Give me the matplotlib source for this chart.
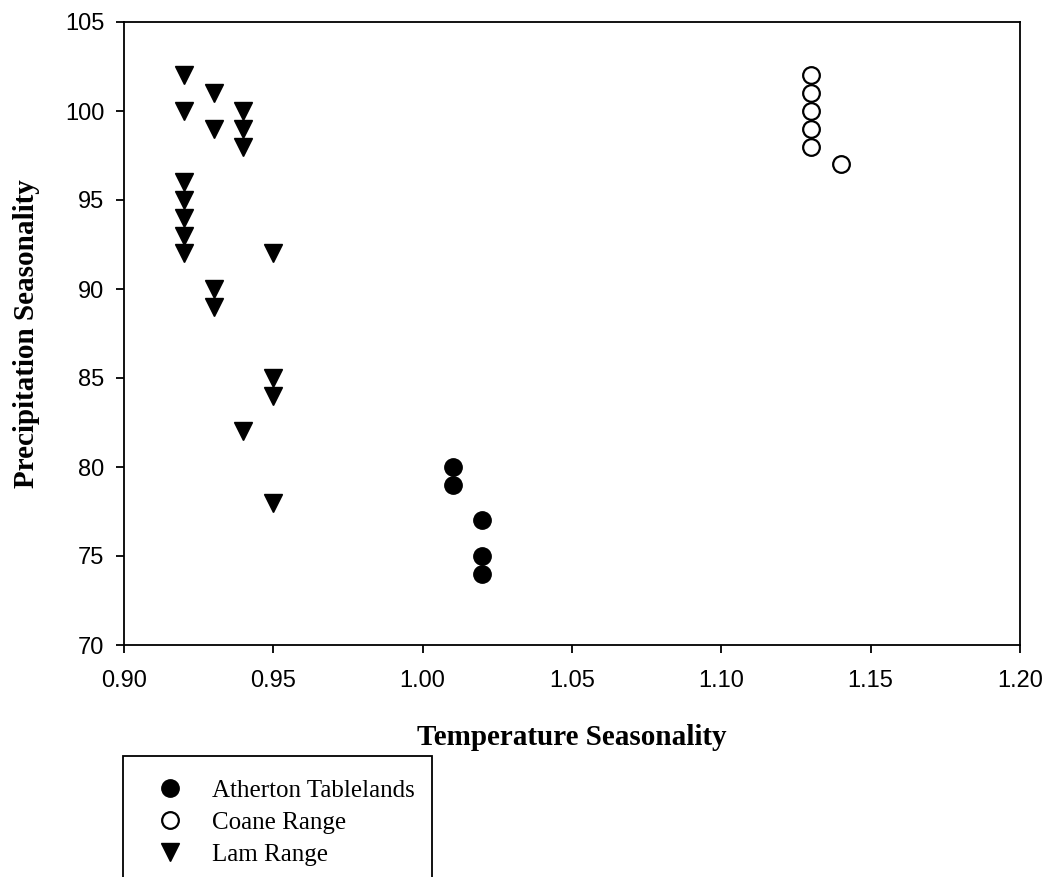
import matplotlib
matplotlib.use('Agg')
import matplotlib.pyplot as plt
from matplotlib.patches import Rectangle

# data
atherton_temp = [1.01, 1.01, 1.02, 1.02, 1.02]
atherton_prec = [80, 79, 77, 75, 74]

coane_temp = [1.13, 1.13, 1.13, 1.13, 1.13, 1.14]
coane_prec = [102, 101, 100, 99, 98, 97]

lam_temp = [0.92, 0.92, 0.92, 0.92, 0.92, 0.92, 0.92,
            0.93, 0.93, 0.93, 0.93,
            0.94, 0.94, 0.94, 0.94,
            0.95, 0.95, 0.95, 0.95]
lam_prec = [102, 100, 96, 95, 94, 93, 92,
            101, 99, 90, 89,
            100, 99, 98, 82,
            92, 85, 84, 78]

x_ticks = [0.90, 0.95, 1.00, 1.05, 1.10, 1.15, 1.20]
y_ticks = [70, 75, 80, 85, 90, 95, 100, 105]

serif = ['Liberation Serif', 'DejaVu Serif']
sans = ['Liberation Sans', 'DejaVu Sans']

fig = plt.figure(figsize=(10.45, 8.77), dpi=100)
ax = fig.add_axes([124/1045, 1 - 645/877, (1020 - 124)/1045, (645 - 22)/877])

ax.plot(atherton_temp, atherton_prec, 'o', color='black', markersize=12.5,
        linestyle='none', label='Atherton Tablelands')
ax.plot(coane_temp, coane_prec, 'o', markerfacecolor='white', markeredgecolor='black',
        markeredgewidth=1.6, markersize=12, linestyle='none', label='Coane Range')
ax.plot(lam_temp, lam_prec, 'v', color='black', markersize=12.5,
        linestyle='none', label='Lam Range')

ax.set_xlim(0.90, 1.20)
ax.set_ylim(70, 105)
ax.set_xticks(x_ticks)
ax.set_xticklabels([f'{v:.2f}' for v in x_ticks], family=sans, fontsize=17)
ax.set_yticks(y_ticks)
ax.set_yticklabels([str(v) for v in y_ticks], family=sans, fontsize=17)
ax.tick_params(direction='out', length=6, width=1.3)
ax.tick_params(axis='x', pad=12)
ax.tick_params(axis='y', pad=8)
for s in ax.spines.values():
    s.set_linewidth(1.3)

ax.set_xlabel('Temperature Seasonality', family=serif, fontweight='bold', fontsize=21)
ax.set_ylabel('Precipitation Seasonality', family=serif, fontweight='bold', fontsize=21)
ax.xaxis.set_label_coords(0.5, (645 - 724) / 623)
ax.yaxis.set_label_coords((40 - 124) / 896, 0.5)

# legend box runs off the bottom of the image
fig.patches.append(Rectangle((123/1045, -0.05), (432 - 123)/1045, (0.05 + 1 - 756/877),
                             transform=fig.transFigure, fill=False,
                             edgecolor='black', linewidth=1.3))
fig.legend(loc='upper left', bbox_to_anchor=(145/1045, 1 - 767/877),
           frameon=False, prop={'family': serif, 'size': 18}, borderpad=0,
           handlelength=1.0, handletextpad=1.2, labelspacing=0.38, markerscale=1.0)

fig.savefig('out.png', dpi=100)
